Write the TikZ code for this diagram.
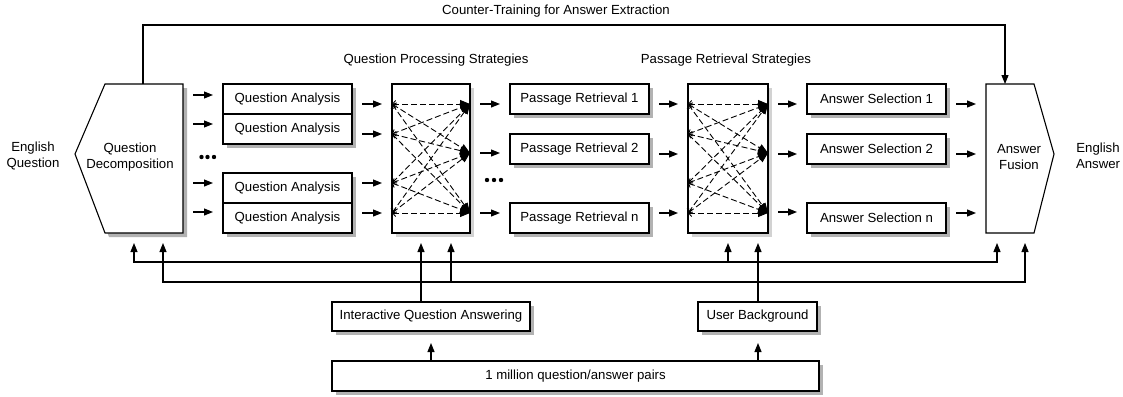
\documentclass[tikz,border=0pt]{standalone}
\usepackage{fontspec}
\setmainfont{Liberation Sans}
\usetikzlibrary{arrows.meta,shadows}
\begin{document}
\begin{tikzpicture}[x=1pt,y=-1pt,
  font=\fontsize{13.2}{16}\selectfont,
  every node/.style={inner sep=0pt, outer sep=0pt},
  box/.style={draw, fill=white, line width=1.1pt, minimum height=30pt,
    drop shadow={shadow xshift=4pt, shadow yshift=-4pt, fill=gray!60, opacity=1}},
  xbox/.style={draw, fill=white, line width=1.1pt, minimum width=78pt, minimum height=149pt,
    drop shadow={shadow xshift=4pt, shadow yshift=-4pt, fill=gray!35, opacity=1}},
  arr/.style={line width=1.1pt, -{Triangle[length=9pt,width=7pt]}},
  arrb/.style={line width=1.1pt, {Triangle[length=9pt,width=7pt]}-{Triangle[length=9pt,width=7pt]}},
  gap/.style={shorten <=10pt, shorten >=10pt},
  dsh/.style={line width=0.9pt, dash pattern=on 6pt off 3pt,
    {Straight Barb[length=3pt,width=7pt]}-{Triangle[length=10pt,width=8pt]}},
  plain/.style={line width=1.1pt}
]
\useasboundingbox (0,0) rectangle (1123,396);

% ---------- Question Decomposition ----------
\fill[gray!60] (109,88) -- (187,88) -- (187,237) -- (109,237) -- (79,158) -- cycle;
\node[minimum width=78pt, minimum height=149pt] (QD) at (144,158.5) {};
\draw[plain, fill=white] (QD.north west) -- (QD.north east) -- (QD.south east) -- (QD.south west) -- (75,154) -- cycle;
\node[align=center] (QDt) at (130,157) {Question\\Decomposition};

\node[align=center] (EQ) at (33,156) {English\\Question};

% ---------- Question Analysis ----------
\node[box, minimum width=129pt] (qa1) at (287.5,99) {Question Analysis};
\node[box, minimum width=129pt] (qa2) at (287.5,129) {Question Analysis};
\node[box, minimum width=129pt] (qa3) at (287.5,188) {Question Analysis};
\node[box, minimum width=129pt] (qa4) at (287.5,218) {Question Analysis};

\foreach \y/\t in {95/qa1,124/qa2,183/qa3,212/qa4}
  \draw[arr,gap] (QD.east |- 0,\y) -- (\t.west |- 0,\y);

\foreach \xx in {201.5,207.5,214}
  \fill (\xx,157) circle (2.2pt);

% ---------- crossbar 1 ----------
\node[xbox] (cb1) at (431,158.5) {};
\foreach \y/\t in {104/qa1,134/qa2,183/qa3,213/qa4}
  \draw[arr,gap] (\t.east |- 0,\y) -- (cb1.west |- 0,\y);
\foreach \a in {104,134,183,213}
  \foreach \b in {104,153,213}
    \draw[dsh] (cb1.west |- 0,\a) -- (cb1.east |- 0,\b);

\node at (436,60) (qps) {Question Processing Strategies};

% ---------- Passage Retrieval ----------
\node[box, minimum width=139pt] (pr1) at (579.5,99) {Passage Retrieval 1};
\node[box, minimum width=139pt] (pr2) at (579.5,149) {Passage Retrieval 2};
\node[box, minimum width=139pt] (prn) at (579.5,218) {Passage Retrieval n};
\foreach \y/\t in {104/pr1,153/pr2,213/prn}
  \draw[arr,gap] (cb1.east |- 0,\y) -- (\t.west |- 0,\y);

\foreach \xx in {487,494,501}
  \fill (\xx,180) circle (2.2pt);

% ---------- crossbar 2 ----------
\node[xbox, minimum width=80pt] (cb2) at (728,158.5) {};
\foreach \y/\t in {104/pr1,154/pr2,213/prn}
  \draw[arr,gap] (\t.east |- 0,\y) -- (cb2.west |- 0,\y);
\foreach \a in {104,134,183,213}
  \foreach \b in {104,153,213}
    \draw[dsh] (cb2.west |- 0,\a) -- (cb2.east |- 0,\b);

\node at (726,60) (prs) {Passage Retrieval Strategies};

% ---------- Answer Selection ----------
\node[box, minimum width=139pt] (as1) at (876.5,99) {Answer Selection 1};
\node[box, minimum width=139pt] (as2) at (876.5,149) {Answer Selection 2};
\node[box, minimum width=139pt] (asn) at (876.5,218) {Answer Selection n};
\foreach \y/\t in {104/as1,154/as2,212/asn}
  \draw[arr,gap] (cb2.east |- 0,\y) -- (\t.west |- 0,\y);

% ---------- Answer Fusion ----------
\node[minimum width=48pt, minimum height=149pt] (AF) at (1010,158.5) {};
\draw[plain, fill=white] (AF.north west) -- (AF.north east) -- (1054,154) -- (AF.south east) -- (AF.south west) -- cycle;
\node[align=center] (AFt) at (1019,157) {Answer\\Fusion};
\foreach \y/\t in {104/as1,154/as2,213/asn}
  \draw[arr,gap] (\t.east |- 0,\y) -- (AF.west |- 0,\y);

\node[align=center] (EA) at (1098,156) {English\\Answer};

% ---------- Counter-training ----------
\draw[arr] (143,0 |- QD.north) -- (143,25) -| (1005,0 |- AF.north);
\node (ct) at (556,11) {Counter-Training for Answer Extraction};

% ---------- bottom boxes ----------
\node[box, minimum width=198pt, minimum height=29pt] (IQA) at (431,316.5) {Interactive Question Answering};
\node[box, minimum width=119pt, minimum height=29pt] (UB) at (757.5,316.5) {User Background};
\node[box, minimum width=487pt, minimum height=30pt] (M1) at (575.5,376) {1 million question/answer pairs};

% ---------- feedback buses ----------
\draw[arrb, shorten <=10pt, shorten >=10pt] (134,0 |- QD.south) |- (997,262) -- (997,0 |- AF.south);
\draw[arr, shorten >=10pt] (728,262) -- (728,0 |- cb2.south);
\draw[arrb, shorten <=10pt, shorten >=10pt] (163,0 |- QD.south) |- (1025,282) -- (1025,0 |- AF.south);
\draw[arr, shorten >=10pt] (451,282) -- (451,0 |- cb1.south);

\draw[arr, shorten >=10pt] (IQA.north -| 421,0) -- (421,0 |- cb1.south);
\draw[arr, shorten >=10pt] (UB.north -| 758,0) -- (758,0 |- cb2.south);
\draw[arr, shorten >=12pt] (M1.north -| 431,0) -- (431,0 |- IQA.south);
\draw[arr, shorten >=12pt] (M1.north -| 758,0) -- (758,0 |- UB.south);
\end{tikzpicture}
\end{document}
